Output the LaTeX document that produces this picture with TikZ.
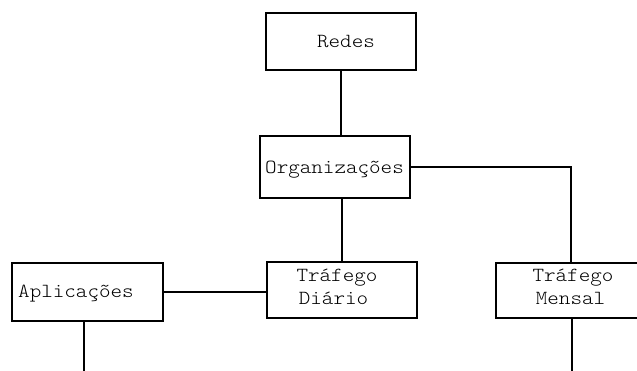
\documentclass[tikz,border=0pt]{standalone}
\usepackage{fontspec}
\newfontfamily\courfont[FakeStretch=1.1]{Latin Modern Mono Light}
\begin{document}
\begin{tikzpicture}[x=1pt,y=1pt,
  box/.style={draw,line width=1.6pt,minimum width=150pt,inner sep=0pt},
  lbl/.style={font=\courfont\fontsize{20}{23}\selectfont,inner sep=0pt,anchor=base},
  conn/.style={line width=1.6pt}]
\useasboundingbox (0,0) rectangle (637,371);
% boxes (y = 371 - pixel row)
\node[box,minimum height=57pt] (redes) at (341,329.5) {};
\node[box,minimum height=62pt] (org) at (335,204) {};
\node[box,minimum height=56pt] (dia) at (342,81) {};
\node[box,minimum height=55pt] (men) at (571,80.5) {};
\node[box,minimum width=151pt,minimum height=58pt] (apl) at (87.5,79) {};
% labels
\node[lbl] (tredes) at (346,323.3) {Redes};
\node[lbl] (torg) at (334.5,197) {Organizações};
\node[lbl] (tdia1) at (337,89) {Tráfego};
\node[lbl] (tdia2) at (333.5,66) {Diário};
\node[lbl] (tmen1) at (573,89.5) {Tráfego};
\node[lbl] (tmen2) at (570.5,66) {Mensal};
\node[lbl,anchor=base west] (tapl) at (18,73.7) {Aplicações};
% free ends
\coordinate (aplend) at (84,0);
\coordinate (menend) at (572,0);
% connectors
\draw[conn] (redes.south) -- (redes.south |- org.north);
\draw[conn] (dia.north) -- (dia.north |- org.south);
\draw[conn] (org.east) -| (men.north);
\draw[conn] (apl.east) -- (apl.east -| dia.west);
\draw[conn] (aplend |- apl.south) -- (aplend);
\draw[conn] (menend |- men.south) -- (menend);
\end{tikzpicture}
\end{document}
